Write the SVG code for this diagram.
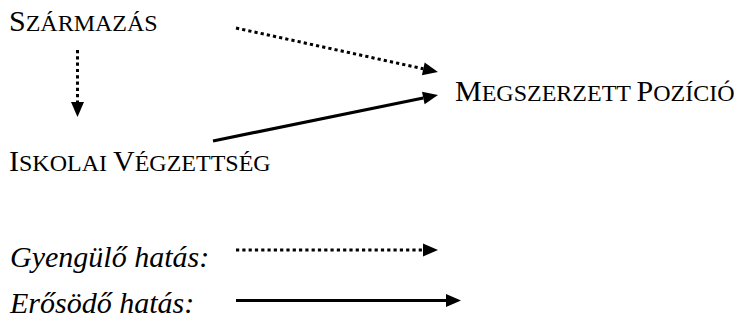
<svg xmlns="http://www.w3.org/2000/svg" width="734" height="327" viewBox="0 0 734 327">
  <style>
    .sc { font-size: 24px; }
    .solid { stroke: #000; stroke-width: 3.2; fill: none; }
    .dot { stroke: #000; stroke-width: 3; fill: none; stroke-dasharray: 3.2 3.1; }
  </style>
  <defs>
    <marker id="head" markerUnits="userSpaceOnUse" markerWidth="15" markerHeight="13" refX="0" refY="6.5" orient="auto" overflow="visible">
      <path d="M0,0 L15,6.5 L0,13 Z" fill="#000"/>
    </marker>
  </defs>

  <!-- all labels share one serif face -->
  <g font-family="'Times New Roman', Tinos, 'Liberation Serif', 'DejaVu Serif', serif" font-size="30" fill="#000">
    <!-- nodes -->
    <g id="szarmazas">
      <text x="9" y="31">S<tspan class="sc">ZÁRMAZÁS</tspan></text>
    </g>
    <g id="iskolai-vegzettseg">
      <text x="9" y="171">I<tspan class="sc">SKOLAI </tspan>V<tspan class="sc">ÉGZETTSÉG</tspan></text>
    </g>
    <g id="megszerzett-pozicio">
      <text x="455" y="101">M<tspan class="sc">EGSZERZETT </tspan>P<tspan class="sc">OZÍCIÓ</tspan></text>
    </g>

    <!-- legend labels -->
    <g id="legend-gyengulo">
      <text font-style="italic" x="10" y="267">Gyengülő hatás:</text>
    </g>
    <g id="legend-erosodo">
      <text font-style="italic" x="10" y="313">Erősödő hatás:</text>
    </g>
  </g>

  <!-- connectors -->
  <g id="connectors">
    <line class="dot" x1="77.5" y1="50" x2="77.5" y2="102" marker-end="url(#head)"/>
    <line class="dot" x1="236" y1="28" x2="423.3" y2="68.8" marker-end="url(#head)"/>
    <line class="solid" x1="213" y1="141" x2="423.3" y2="98" marker-end="url(#head)"/>
    <line class="dot" x1="236" y1="250" x2="423" y2="250" marker-end="url(#head)"/>
    <line class="solid" x1="236" y1="300.5" x2="446" y2="300.5" marker-end="url(#head)"/>
  </g>
</svg>
